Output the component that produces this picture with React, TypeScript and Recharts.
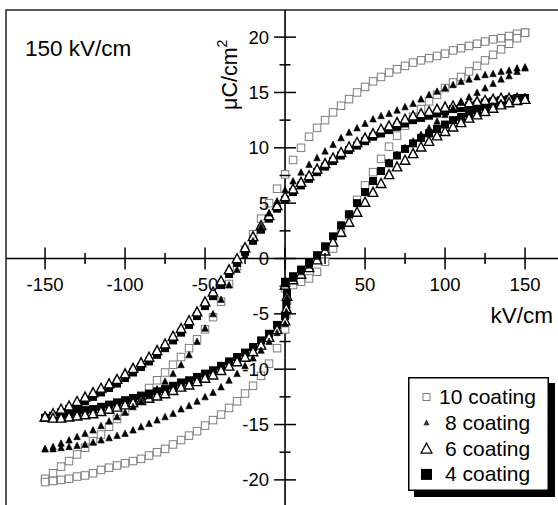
import React from 'react';
import { ScatterChart, Scatter, XAxis, YAxis, ReferenceLine, ReferenceArea, Legend } from 'recharts';

// ---------- data ----------
const fieldsDesc = [150,145,140,135,130,125,120,115,110,105,100,95,90,85,80,75,70,65,60,55,50,45,40,35,30,25,20,15,10,5,0,-5,-10,-15,-20,-25,-30,-35,-40,-45,-50,-55,-60,-65,-70,-75,-80,-85,-90,-95,-100,-105,-110,-115,-120,-125,-130,-135,-140,-145,-150];
const fieldsNegAsc = [-150,-145,-140,-135,-130,-125,-120,-115,-110,-105,-100,-95,-90,-85,-80,-75,-70,-65,-60,-55,-50,-45,-40,-35,-30,-25,-20,-15,-10,-5,0];
const fieldsPosAsc = [0,5,10,15,20,25,30,35,40,45,50,55,60,65,70,75,80,85,90,95,100,105,110,115,120,125,130,135,140,145,150];
const jumpFields = [0.8, 1.2];

// 10 coating
const coat10Upper = [20.4,20.3,20.1,19.9,19.8,19.6,19.4,19.2,19.0,18.8,18.5,18.3,18.1,17.9,17.7,17.4,17.1,16.8,16.4,16.0,15.5,15.0,14.4,13.8,13.2,12.5,11.8,11.0,10.0,8.9,7.6,6.3,5.0,3.6,2.2,0.8,-0.7,-2.3,-3.9,-5.3,-6.4,-7.3,-8.1,-8.9,-9.6,-10.3,-11.0,-11.7,-12.4,-13.1,-13.8,-14.5,-15.2,-15.9,-16.5,-17.1,-17.7,-18.3,-18.8,-19.4,-19.9];
const coat10LowerLeft = [-20.2,-20.1,-20.0,-19.9,-19.7,-19.6,-19.4,-19.1,-18.9,-18.7,-18.5,-18.3,-18.1,-17.8,-17.5,-17.2,-16.8,-16.4,-16.0,-15.6,-15.1,-14.6,-14.1,-13.5,-12.9,-12.2,-11.5,-10.6,-9.5,-8.1,-6.4];
const coat10Jump = [-5.0, -3.8];
const coat10LowerRight = [-2.7,-2.4,-2.1,-1.8,-1.2,-0.3,0.9,2.3,3.9,5.3,6.6,7.8,9.0,10.1,11.1,12.0,12.8,13.5,14.2,14.8,15.4,15.9,16.4,16.9,17.4,17.9,18.4,18.9,19.4,19.9,20.4];

// 8 coating
const coat8Upper = [17.3,17.2,17.0,16.9,16.7,16.6,16.4,16.2,16.0,15.7,15.4,15.1,14.8,14.4,14.0,13.7,13.4,13.1,12.9,12.6,12.2,11.8,11.4,10.9,10.3,9.7,9.1,8.5,7.8,7.0,6.2,5.2,4.1,2.9,1.6,0.3,-1.0,-2.4,-3.7,-5.0,-6.3,-7.5,-8.7,-9.6,-10.4,-11.1,-11.8,-12.4,-12.9,-13.4,-13.9,-14.3,-14.7,-15.1,-15.5,-15.8,-16.1,-16.4,-16.7,-17.0,-17.2];
const coat8LowerLeft = [-17.2,-17.2,-17.1,-17.0,-16.9,-16.8,-16.6,-16.4,-16.2,-16.0,-15.8,-15.5,-15.2,-14.9,-14.6,-14.3,-14.0,-13.6,-13.3,-12.9,-12.5,-12.1,-11.6,-11.0,-10.4,-9.7,-9.0,-8.3,-7.5,-6.7,-5.9];
const coat8Jump = [-4.8, -3.5];
const coat8LowerRight = [-2.3,-1.8,-1.2,-0.6,0.2,1.0,2.0,3.0,4.0,5.0,6.0,7.0,7.9,8.7,9.4,10.0,10.6,11.2,11.8,12.4,13.0,13.6,14.1,14.6,15.0,15.4,15.8,16.2,16.5,16.9,17.2];

// 6 coating
const coat6Upper = [14.4,14.5,14.5,14.5,14.4,14.3,14.2,14.1,14.0,13.8,13.7,13.5,13.3,13.1,12.9,12.6,12.3,12.0,11.7,11.3,10.9,10.5,10.1,9.6,9.1,8.6,8.1,7.5,6.9,6.3,5.6,4.8,3.9,3.0,2.0,1.0,0.0,-1.0,-2.0,-3.0,-3.9,-4.8,-5.6,-6.3,-7.0,-7.7,-8.3,-8.9,-9.4,-9.9,-10.4,-10.9,-11.3,-11.7,-12.1,-12.5,-12.9,-13.3,-13.6,-14.0,-14.3];
const coat6LowerLeft = [-14.3,-14.4,-14.4,-14.3,-14.2,-14.1,-14.0,-13.8,-13.6,-13.4,-13.2,-13.0,-12.8,-12.6,-12.4,-12.2,-11.9,-11.6,-11.4,-11.1,-10.8,-10.5,-10.1,-9.7,-9.3,-8.9,-8.4,-7.8,-7.1,-6.4,-5.6];
const coat6Jump = [-4.5, -3.4];
const coat6LowerRight = [-2.4,-1.9,-1.4,-0.8,-0.1,0.7,1.5,2.4,3.3,4.2,5.1,6.0,6.8,7.6,8.3,8.9,9.5,10.1,10.6,11.1,11.5,11.9,12.3,12.7,13.0,13.3,13.6,13.9,14.1,14.3,14.4];

// 4 coating
const coat4Upper = [14.5,14.5,14.4,14.3,14.2,14.1,13.9,13.8,13.6,13.5,13.3,13.1,12.9,12.7,12.5,12.2,11.9,11.6,11.3,11.0,10.6,10.2,9.8,9.3,8.8,8.3,7.8,7.2,6.6,6.0,5.3,4.5,3.6,2.6,1.6,0.6,-0.4,-1.4,-2.4,-3.4,-4.3,-5.2,-6.0,-6.7,-7.4,-8.1,-8.7,-9.3,-9.8,-10.3,-10.8,-11.3,-11.7,-12.1,-12.5,-12.9,-13.3,-13.6,-13.9,-14.2,-14.4];
const coat4LowerLeft = [-14.4,-14.3,-14.1,-14.0,-13.9,-13.7,-13.6,-13.4,-13.2,-13.0,-12.8,-12.6,-12.4,-12.2,-12.0,-11.8,-11.5,-11.2,-11.0,-10.7,-10.4,-10.1,-9.7,-9.3,-8.9,-8.5,-8.0,-7.4,-6.8,-6.0,-5.2];
const coat4Jump = [-4.2, -3.1];
const coat4LowerRight = [-2.1,-1.6,-1.0,-0.4,0.3,1.1,2.0,3.0,4.0,5.0,6.0,7.0,7.9,8.6,9.3,9.9,10.4,10.9,11.3,11.7,12.1,12.5,12.8,13.1,13.4,13.7,13.9,14.1,14.3,14.4,14.5];

const xTicks = [-150,-125,-100,-75,-50,-25,0,25,50,75,100,125,150];
const yTicks = [-20,-17.5,-15,-12.5,-10,-7.5,-5,-2.5,0,2.5,5,7.5,10,12.5,15,17.5,20];
const seriesNames = ['10 coating', '8 coating', '6 coating', '4 coating'];

// ---------- layout ----------
const CW = 562;
const CH = 510;
const AXIS_SIZE = 1;
const MARGIN = { top: 10, right: 2, bottom: 3 - AXIS_SIZE, left: 6 - AXIS_SIZE };
const X_MIN = -174.4;
const X_MAX = 171.85;
const Y_MIN = -22.45;
const Y_MAX = 22.45;
const PLOT_LEFT = MARGIN.left + AXIS_SIZE;
const PLOT_W = CW - PLOT_LEFT - MARGIN.right;
const PLOT_H = CH - MARGIN.top - MARGIN.bottom - AXIS_SIZE;
const X0 = PLOT_LEFT + (PLOT_W * (0 - X_MIN)) / (X_MAX - X_MIN);
const Y0 = MARGIN.top + (PLOT_H * (Y_MAX - 0)) / (Y_MAX - Y_MIN);
const FONT = '"Liberation Sans", Arial, sans-serif';

const zip = (xs: number[], ys: number[]) =>
  ys.slice(0, xs.length).map((y, i) => ({ x: xs[i], y }));

const loop = (up: number[], ll: number[], jump: number[], lr: number[]) => [
  ...zip(fieldsDesc, up),
  ...zip(fieldsNegAsc, ll),
  ...zip(jumpFields, jump),
  ...zip(fieldsPosAsc, lr),
];

const data10 = loop(coat10Upper, coat10LowerLeft, coat10Jump, coat10LowerRight);
const data8 = loop(coat8Upper, coat8LowerLeft, coat8Jump, coat8LowerRight);
const data6 = loop(coat6Upper, coat6LowerLeft, coat6Jump, coat6LowerRight);
const data4 = loop(coat4Upper, coat4LowerLeft, coat4Jump, coat4LowerRight);

// ---------- marker shapes ----------
const OpenSquare = (p: any) => {
  const s = 7.5;
  if (p.cx == null) return null;
  return <rect x={p.cx - s / 2} y={p.cy - s / 2} width={s} height={s} fill="#fff" stroke="#7d7d7d" strokeWidth={1} />;
};
const SmallTri = (p: any) => {
  if (p.cx == null) return null;
  const w = 6.5, h = 6;
  return <polygon points={`${p.cx},${p.cy - h / 2 - 0.5} ${p.cx - w / 2},${p.cy + h / 2} ${p.cx + w / 2},${p.cy + h / 2}`} fill="#000" stroke="#000" strokeWidth={0.6} />;
};
const OpenTri = (p: any) => {
  if (p.cx == null) return null;
  const w = 9.5, h = 8.5;
  return <polygon points={`${p.cx},${p.cy - h / 2 - 0.5} ${p.cx - w / 2},${p.cy + h / 2} ${p.cx + w / 2},${p.cy + h / 2}`} fill="#fff" stroke="#000" strokeWidth={1.4} />;
};
const FilledSquare = (p: any) => {
  const s = 8;
  if (p.cx == null) return null;
  return <rect x={p.cx - s / 2} y={p.cy - s / 2} width={s} height={s} fill="#000" />;
};

// ---------- axis ticks drawn at the origin ----------
const XTick = (props: any) => {
  const { x, payload } = props;
  const v = payload.value;
  const major = v % 50 === 0;
  const len = major ? 11 : 5.5;
  return (
    <g>
      <line x1={x} x2={x} y1={Y0 - len} y2={Y0 + len} stroke="#000" strokeWidth={1.5} />
      {major && v !== 0 && (
        <text x={x} y={Y0 + 32} textAnchor="middle" fontFamily={FONT} fontSize={18.5} fill="#000">
          {v}
        </text>
      )}
    </g>
  );
};
const YTick = (props: any) => {
  const { y, payload } = props;
  const v = payload.value;
  const major = v % 5 === 0;
  const len = major ? 11 : 5.5;
  return (
    <g>
      <line x1={X0 - len} x2={X0 + len} y1={y} y2={y} stroke="#000" strokeWidth={1.5} />
      {major && (
        <text x={X0 - 16} y={y + 6.5} textAnchor="end" fontFamily={FONT} fontSize={18.5} fill="#000">
          {v}
        </text>
      )}
    </g>
  );
};

// ---------- legend ----------
const legendSymbols = [
  (cx: number, cy: number) => <rect x={cx - 3.5} y={cy - 3.5} width={7} height={7} fill="#fff" stroke="#7d7d7d" strokeWidth={1} />,
  (cx: number, cy: number) => <polygon points={`${cx},${cy - 3.5} ${cx - 3},${cy + 2.5} ${cx + 3},${cy + 2.5}`} fill="#333" />,
  (cx: number, cy: number) => <polygon points={`${cx},${cy - 5.5} ${cx - 5.5},${cy + 4.5} ${cx + 5.5},${cy + 4.5}`} fill="#fff" stroke="#000" strokeWidth={1.2} />,
  (cx: number, cy: number) => <rect x={cx - 5.5} y={cy - 5.5} width={11} height={11} fill="#000" />,
];
const LegendBox = () => (
  <svg width={150} height={122} style={{ display: 'block' }}>
    <rect x={6} y={6} width={141} height={114} fill="#000" />
    <rect x={0.75} y={0.75} width={139.5} height={112.5} fill="#fff" stroke="#000" strokeWidth={1.5} />
    {seriesNames.map((name, i) => {
      const base = 27 + i * 25.8;
      return (
        <g key={name}>
          {legendSymbols[i](18.5, base - 7)}
          <text x={name.length >= 10 ? 31 : 37} y={base} fontFamily={FONT} fontSize={21} fill="#000">
            {name}
          </text>
        </g>
      );
    })}
  </svg>
);

export default function App() {
  return (
    <div style={{ position: 'absolute', left: 0, top: 0, width: 558, height: 505, overflow: 'hidden', background: '#fff' }}>
      <ScatterChart width={CW} height={CH} margin={MARGIN}>
        <XAxis
          type="number"
          dataKey="x"
          domain={[X_MIN, X_MAX]}
          allowDataOverflow
          ticks={xTicks}
          interval={0}
          height={AXIS_SIZE}
          axisLine={false}
          tickLine={false}
          tick={(p: any) => <XTick {...p} />}
        />
        <YAxis
          type="number"
          dataKey="y"
          domain={[Y_MIN, Y_MAX]}
          allowDataOverflow
          ticks={yTicks}
          interval={0}
          width={AXIS_SIZE}
          axisLine={false}
          tickLine={false}
          tick={(p: any) => <YTick {...p} />}
        />
        <ReferenceArea x1={X_MIN} x2={X_MAX} y1={Y_MIN} y2={Y_MAX} fill="none" fillOpacity={0} stroke="#222" strokeWidth={1.5} ifOverflow="visible" />
        <ReferenceLine x={0} stroke="#000" strokeWidth={1.6} />
        <ReferenceLine y={0} stroke="#000" strokeWidth={1.6} />
        <Scatter name={seriesNames[0]} data={data10} shape={OpenSquare} isAnimationActive={false} />
        <Scatter name={seriesNames[3]} data={data4} shape={FilledSquare} isAnimationActive={false} />
        <Scatter name={seriesNames[2]} data={data6} shape={OpenTri} isAnimationActive={false} />
        <Scatter name={seriesNames[1]} data={data8} shape={SmallTri} isAnimationActive={false} />
        <Legend
          layout="vertical"
          align="center"
          verticalAlign="middle"
          wrapperStyle={{ left: 408, top: 377, width: 150, height: 122 }}
          content={() => <LegendBox />}
        />
        <text x={25} y={56} fontFamily={FONT} fontSize={22.5} fill="#000">150 kV/cm</text>
        <text x={553} y={323} textAnchor="end" fontFamily={FONT} fontSize={22.5} fill="#000">kV/cm</text>
        <text transform={`translate(237, 110) rotate(-90)`} fontFamily={FONT} fontSize={21.5} fill="#000">
          μC/cm<tspan dy={-10} fontSize={14}>2</tspan>
        </text>
      </ScatterChart>
    </div>
  );
}
